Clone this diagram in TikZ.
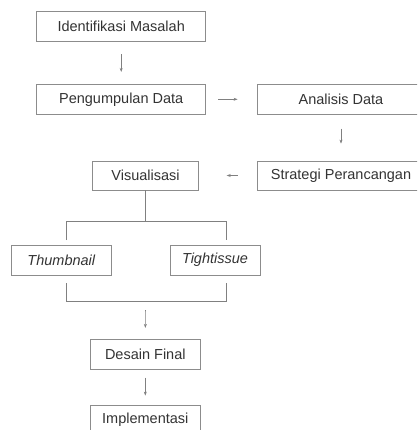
\documentclass[tikz,border=0pt]{standalone}
\usepackage{fontspec}
\setmainfont{Liberation Sans}
\usetikzlibrary{arrows.meta}
\definecolor{boxline}{gray}{0.55}
\definecolor{txt}{gray}{0.2}
\definecolor{conn}{gray}{0.5}
\begin{document}
\begin{tikzpicture}[x=1pt,y=-1pt,
  stepbox/.style={draw=boxline,line width=0.8pt,inner sep=0pt,minimum height=30pt,text=txt,font=\fontsize{14.5}{17}\selectfont,anchor=center},
  arr/.style={draw=conn,line width=0.6pt,-{Stealth[length=4pt,width=3pt]}},
  ln/.style={draw=conn,line width=0.6pt}]
\useasboundingbox (0,0) rectangle (417,430);
\clip (0,0) rectangle (417,430);
\node[stepbox,minimum width=169pt] (ident) at (121.2,26.7) {Identifikasi Masalah};
\node[stepbox,minimum width=169pt] (peng) at (121.2,99.3) {Pengumpulan Data};
\node[stepbox,minimum width=168pt] (anal) at (341,99.3) {Analisis Data};
\node[stepbox,minimum width=168pt,minimum height=29pt] (strat) at (341,175.5) {Strategi Perancangan};
\node[stepbox,minimum width=105.6pt,minimum height=29pt] (vis) at (145.5,175.5) {Visualisasi};
\node[stepbox,minimum width=99.3pt] (thumb) at (61.3,260) {\itshape Thumbnail};
\node[stepbox,minimum width=90pt] (tight) at (215,260) {\itshape Tightissue};
\node[stepbox,minimum width=110.7pt] (desain) at (145.3,354.3) {Desain Final};
\node[stepbox,minimum width=110.7pt] (impl) at (145.3,420) {Implementasi};
\coordinate (splitA) at (145.5,221.7);
\coordinate (tl) at (66,221.7);
\coordinate (tr) at (226,221.7);
\coordinate (tlb) at (66,240);
\coordinate (trb) at (226,240);
\coordinate (bl) at (66,283.3);
\coordinate (br) at (226,283.3);
\coordinate (bla) at (66,301);
\coordinate (bra) at (226,301);
\coordinate (bm) at (145.5,301);
\draw[arr,shorten <=12pt,shorten >=12pt] (ident.south) -- (peng.north);
\draw[arr,shorten <=12pt,shorten >=19pt] (peng.east) -- (anal.west);
\draw[arr,shorten <=14pt,shorten >=17pt] (anal.south) -- (strat.north);
\draw[arr,shorten <=19pt,shorten >=28pt] (strat.west) -- (vis.east);
\draw[ln] (vis.south) -- (splitA);
\draw[ln] (tlb) -- (tl) -- (tr) -- (trb);
\draw[ln] (bl) -- (bla) -- (bra) -- (br);
\draw[arr,shorten <=9pt,shorten >=11pt] (bm) -- (desain.north);
\draw[arr,shorten <=8pt,shorten >=9pt] (desain.south) -- (impl.north);
\end{tikzpicture}
\end{document}
